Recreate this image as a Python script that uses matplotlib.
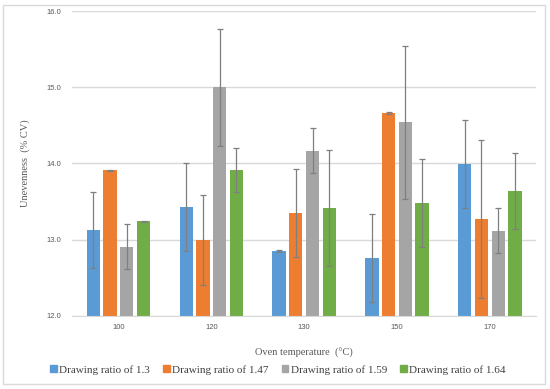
import numpy as np
from matplotlib import pyplot as plt
from matplotlib.patches import Patch, Rectangle

temps = ['100', '120', '130', '150', '170']
series = ['Drawing ratio of 1.3', 'Drawing ratio of 1.47',
          'Drawing ratio of 1.59', 'Drawing ratio of 1.64']
means_13 = [13.13, 13.43, 12.85, 12.76, 13.99]
means_147 = [13.91, 13.00, 13.35, 14.66, 13.27]
means_159 = [12.91, 15.00, 14.17, 14.54, 13.12]
means_164 = [13.24, 13.91, 13.42, 13.48, 13.64]
err_13 = [0.50, 0.58, 0.01, 0.58, 0.58]
err_147 = [0.01, 0.59, 0.58, 0.01, 1.04]
err_159 = [0.29, 0.77, 0.29, 1.00, 0.29]
err_164 = [0.01, 0.29, 0.76, 0.58, 0.50]

colors = ['#5B9BD5', '#ED7D31', '#A5A5A5', '#70AD47']
means = [means_13, means_147, means_159, means_164]
errs = [err_13, err_147, err_159, err_164]

fig = plt.figure(figsize=(5.5, 3.89), dpi=100)
fig.patches.append(Rectangle((0.006, 0.013), 0.985, 0.975, transform=fig.transFigure,
                             fill=False, edgecolor='#D9D9D9', linewidth=1))
ax = fig.add_axes([0.131, 0.1877, 0.844, 0.784])

x = np.arange(len(temps))
step = 0.18
width = 0.143
for i in range(4):
    pos = x + (i - 1.5) * step
    ax.bar(pos, means[i], width, color=colors[i], zorder=2)
    ax.errorbar(pos, means[i], yerr=errs[i], fmt='none', ecolor='#7F7F7F',
                elinewidth=0.9, capsize=2, capthick=0.9, zorder=3)

ax.set_ylim(12, 16)
ax.set_xlim(-0.5, len(temps) - 0.5)
ax.set_yticks([12, 13, 14, 15, 16])
ax.set_yticklabels(['12.0', '13.0', '14.0', '15.0', '16.0'])
ax.set_xticks(x)
ax.set_xticklabels(temps)
ax.tick_params(length=0, labelsize=5.5, labelcolor='#595959', pad=6)
ax.tick_params(axis='y', pad=8)
for lab in ax.get_xticklabels() + ax.get_yticklabels():
    lab.set_family('Liberation Sans')
ax.grid(axis='y', color='#D9D9D9', linewidth=1, zorder=0)
for s in ['top', 'right', 'left']:
    ax.spines[s].set_visible(False)
ax.spines['bottom'].set_color('#D9D9D9')

ax.set_ylabel('Unevenness  (% CV)', family='Liberation Serif', fontsize=7.5,
              color='#595959', labelpad=12)
ax.set_xlabel('Oven temperature  (°C)', family='Liberation Serif', fontsize=7.5,
              color='#595959', labelpad=12)

handles = [Patch(color=c) for c in colors]
fig.legend(handles, series, loc='center', bbox_to_anchor=(0.505, 0.049), ncol=4,
           frameon=False, prop={'family': 'Liberation Serif', 'size': 8},
           handlelength=0.6, handleheight=0.6, handletextpad=0.2,
           columnspacing=1.2, labelcolor='#404040')

fig.savefig('out.png', dpi=100)
